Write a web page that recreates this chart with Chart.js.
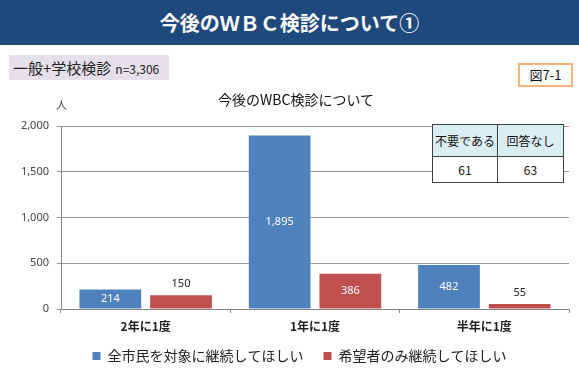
<!DOCTYPE html>
<html>
<head>
<meta charset="utf-8">
<script src="https://cdn.jsdelivr.net/npm/chart.js@4/dist/chart.umd.min.js"></script>
<style>
  body { margin: 0; width: 579px; height: 369px; position: relative; overflow: hidden; background: #fff;
         font-family: "Noto Sans CJK JP", "Noto Sans", sans-serif; }
  #header { position: absolute; left: 0; top: 0; width: 579px; height: 45px; background: #1F497D;
            color: #fff; font-size: 20px; font-weight: bold; text-align: center; line-height: 45px; }
  #sample { position: absolute; left: 9px; top: 55px; width: 160px; height: 25px; background: #E5E0EC;
            font-size: 15px; line-height: 25px; color: #222; padding-left: 4px; box-sizing: border-box; }
  #sample span { font-size: 12px; margin-left: 4px; }
  #fig { position: absolute; left: 518px; top: 63px; width: 55px; height: 24px; border: 2px solid #F8B47A;
         box-sizing: border-box; font-size: 13px; line-height: 20px; text-align: center; color: #111; }
  #ctitle { position: absolute; left: 0; width: 592px; top: 89px; text-align: center; font-size: 14px; color: #111; }
  #unit { position: absolute; left: 56px; top: 96px; font-size: 11px; color: #444; }
  #wrap { position: absolute; left: 0; top: 88px; width: 579px; height: 295px; }
  #tbl { position: absolute; left: 432px; top: 124px; border-collapse: collapse; font-size: 12px; background: #fff; }
  #tbl td { border: 1px solid #404040; text-align: center; padding: 0; color: #111; }
  #tbl tr.h td { background: #DBEEF4; height: 31px; }
  #tbl tr.v td { height: 25px; }
</style>
</head>
<body>
<div id="header">今後のＷＢＣ検診について①</div>
<div id="sample">一般+学校検診<span>n=3,306</span></div>
<div id="fig">図7-1</div>
<div id="wrap"><canvas id="chart"></canvas></div>
<div id="ctitle">今後のWBC検診について</div>
<div id="unit">人</div>
<table id="tbl">
  <tr class="h"><td style="width:64px">不要である</td><td style="width:65px">回答なし</td></tr>
  <tr class="v"><td>61</td><td>63</td></tr>
</table>
<script>
var categories = ["2年に1度", "1年に1度", "半年に1度"];
var allCitizens = [214, 1895, 482];
var requestOnly = [150, 386, 55];
var seriesNames = ["全市民を対象に継続してほしい", "希望者のみ継続してほしい"];

// bar value labels: inside if the bar is tall enough, otherwise above
var valueLabels = {
  id: 'valueLabels',
  afterDatasetsDraw: function (chart) {
    var ctx = chart.ctx;
    ctx.save();
    ctx.font = '11px "Noto Sans", sans-serif';
    ctx.textAlign = 'center';
    ctx.textBaseline = 'middle';
    chart.data.datasets.forEach(function (ds, i) {
      chart.getDatasetMeta(i).data.forEach(function (bar, j) {
        var h = bar.base - bar.y;
        var txt = ds.data[j].toLocaleString('en-US');
        if (h > 16) {
          ctx.fillStyle = '#fff';
          ctx.fillText(txt, bar.x, bar.y + h / 2);
        } else {
          ctx.fillStyle = '#222';
          ctx.fillText(txt, bar.x, bar.y - 11);
        }
      });
    });
    ctx.restore();
  }
};

// nudge the legend right and up, like the original
var legendShift = {
  id: 'legendShift',
  afterLayout: function (chart) {
    chart.legend.left += 15;
    chart.legend.right += 15;
    chart.legend.top -= 10;
    chart.legend.bottom -= 10;
  }
};

new Chart(document.getElementById('chart'), {
  type: 'bar',
  data: {
    labels: categories,
    datasets: [
      { label: seriesNames[0], data: allCitizens, backgroundColor: '#4F81BD' },
      { label: seriesNames[1], data: requestOnly, backgroundColor: '#C0504D' }
    ]
  },
  options: {
    responsive: true,
    maintainAspectRatio: false,
    animation: false,
    categoryPercentage: 0.835,
    barPercentage: 0.873,
    layout: { padding: { top: 38, right: 10, left: 0, bottom: 0 } },
    plugins: {
      legend: {
        position: 'bottom',
        labels: {
          boxWidth: 8, boxHeight: 8, padding: 20,
          color: '#222',
          font: { size: 14, family: '"Noto Sans CJK JP", sans-serif' }
        }
      },
      tooltip: { enabled: false }
    },
    scales: {
      x: {
        afterFit: function (s) { s.height = 30; },
        grid: { drawOnChartArea: false, tickLength: 4, color: '#888', offset: true },
        border: { color: '#888' },
        ticks: { color: '#222', padding: 6, font: { size: 12, weight: 'bold', family: '"Noto Sans CJK JP", sans-serif' } }
      },
      y: {
        min: 0, max: 2000,
        afterFit: function (s) { s.width = 61; },
        grid: { color: '#999', tickLength: 4 },
        border: { color: '#888' },
        ticks: {
          stepSize: 500, color: '#444', padding: 8,
          font: { size: 11, family: '"Noto Sans", sans-serif' },
          callback: function (v) { return v.toLocaleString('en-US'); }
        }
      }
    }
  },
  plugins: [valueLabels, legendShift]
});
</script>
</body>
</html>
